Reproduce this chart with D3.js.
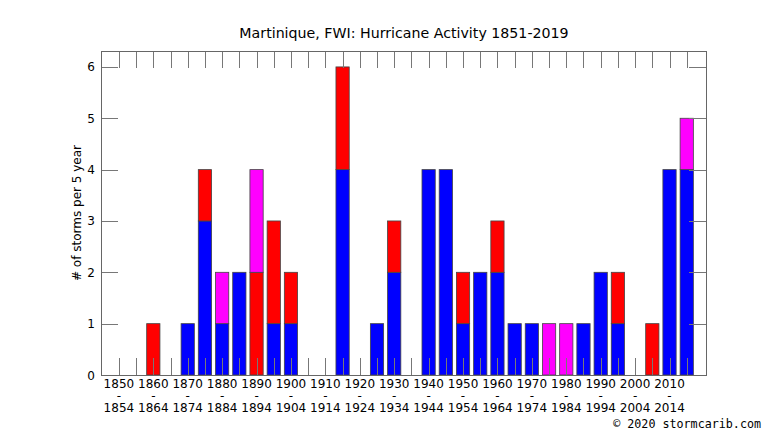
<!DOCTYPE html>
<html>
<head>
<meta charset="utf-8">
<script src="https://cdn.jsdelivr.net/npm/d3@7"></script>
<style>
  body { margin: 0; background: #fff; }
  svg { display: block; }
</style>
</head>
<body>
<svg id="chart"></svg>
<script>
// chart size
const width = 766;
const height = 431;
const plot = { left: 101, right: 706, top: 51, bottom: 375 };

// 5-year bins (start year) and storm counts per bin
const binStarts = [1850, 1855, 1860, 1865, 1870, 1875, 1880, 1885, 1890, 1895,
                   1900, 1905, 1910, 1915, 1920, 1925, 1930, 1935, 1940, 1945,
                   1950, 1955, 1960, 1965, 1970, 1975, 1980, 1985, 1990, 1995,
                   2000, 2005, 2010, 2015];
const blueCounts = [0, 0, 0, 0, 1, 3, 1, 2, 0, 1,
                    1, 0, 0, 4, 0, 1, 2, 0, 4, 4,
                    1, 2, 2, 1, 1, 0, 0, 1, 2, 1,
                    0, 0, 4, 4];
const redCounts = [0, 0, 1, 0, 0, 1, 0, 0, 2, 2,
                   1, 0, 0, 2, 0, 0, 1, 0, 0, 0,
                   1, 0, 1, 0, 0, 0, 0, 0, 0, 1,
                   0, 1, 0, 0];
const magentaCounts = [0, 0, 0, 0, 0, 0, 1, 0, 2, 0,
                       0, 0, 0, 0, 0, 0, 0, 0, 0, 0,
                       0, 0, 0, 0, 0, 1, 1, 0, 0, 0,
                       0, 0, 0, 1];
const labelYears = [1850, 1860, 1870, 1880, 1890, 1900, 1910, 1920, 1930,
                    1940, 1950, 1960, 1970, 1980, 1990, 2000, 2010];
const yTicks = [0, 1, 2, 3, 4, 5, 6];

const svg = d3.select("#chart")
    .attr("width", width)
    .attr("height", height);

const x = d3.scaleLinear()
    .domain([1844.8, 2020.6])
    .range([plot.left, plot.right]);
const y = d3.scaleLinear()
    .domain([0, 6.31])
    .range([plot.bottom, plot.top]);

const binPx = x(1855) - x(1850);
const barW = binPx * 0.77;

// stack the three series
const keys = ["blue", "red", "magenta"];
const colors = { blue: "#0000ff", red: "#ff0000", magenta: "#ff00ff" };
const rows = binStarts.map((yr, i) => ({
    year: yr, blue: blueCounts[i], red: redCounts[i], magenta: magentaCounts[i]
}));
const series = d3.stack().keys(keys)(rows);

const barGroup = svg.append("g").attr("class", "bars");
series.forEach(s => {
    barGroup.selectAll(null)
        .data(s.filter(d => d[1] > d[0]))
        .enter().append("rect")
        .attr("x", d => x(d.data.year) - barW / 2)
        .attr("y", d => y(d[1]))
        .attr("width", barW)
        .attr("height", d => y(d[0]) - y(d[1]))
        .attr("fill", colors[s.key])
        .attr("stroke", "#444")
        .attr("stroke-width", 0.8);
});

// ticks drawn over the bars
const tickLen = 17;
const tickColor = "#777";
const tickGroup = svg.append("g").attr("class", "ticks")
    .attr("stroke", tickColor).attr("stroke-width", 1);
binStarts.forEach(yr => {
    const xx = Math.round(x(yr)) + 0.5;
    tickGroup.append("line").attr("x1", xx).attr("x2", xx)
        .attr("y1", plot.bottom).attr("y2", plot.bottom - tickLen);
    tickGroup.append("line").attr("x1", xx).attr("x2", xx)
        .attr("y1", plot.top).attr("y2", plot.top + tickLen);
});
yTicks.filter(t => t > 0).forEach(t => {
    const yy = Math.round(y(t)) + 0.5;
    tickGroup.append("line").attr("x1", plot.left).attr("x2", plot.left + tickLen)
        .attr("y1", yy).attr("y2", yy);
    tickGroup.append("line").attr("x1", plot.right).attr("x2", plot.right - tickLen)
        .attr("y1", yy).attr("y2", yy);
});

// frame
svg.append("rect")
    .attr("x", plot.left + 0.5).attr("y", plot.top + 0.5)
    .attr("width", plot.right - plot.left).attr("height", plot.bottom - plot.top)
    .attr("fill", "none").attr("stroke", "#666").attr("stroke-width", 1);

// y tick labels
svg.append("g").selectAll("text")
    .data(yTicks)
    .enter().append("text")
    .attr("x", plot.left - 6)
    .attr("y", d => y(d) + 4.5)
    .attr("text-anchor", "end")
    .attr("font-family", "DejaVu Sans")
    .attr("font-size", 12)
    .text(d => d);

// x tick labels, three lines each
const xl = svg.append("g").selectAll("text")
    .data(labelYears)
    .enter().append("text")
    .attr("text-anchor", "middle")
    .attr("font-family", "DejaVu Sans")
    .attr("font-size", 12);
xl.append("tspan").attr("x", d => x(d)).attr("y", 388).text(d => d);
xl.append("tspan").attr("x", d => x(d)).attr("y", 400).text("-");
xl.append("tspan").attr("x", d => x(d)).attr("y", 412).text(d => d + 4);

// y axis title
svg.append("text")
    .attr("transform", "translate(81,213) rotate(-90)")
    .attr("text-anchor", "middle")
    .attr("font-family", "DejaVu Sans")
    .attr("font-size", 12)
    .text("# of storms per 5 year");

// title
svg.append("text")
    .attr("x", 404).attr("y", 38)
    .attr("text-anchor", "middle")
    .attr("font-family", "DejaVu Sans")
    .attr("font-size", 14.2)
    .text("Martinique, FWI: Hurricane Activity 1851-2019");

// credit
svg.append("text")
    .attr("x", 761).attr("y", 428)
    .attr("text-anchor", "end")
    .attr("font-family", "DejaVu Sans Mono")
    .attr("font-size", 11.7)
    .text("\u00a9 2020 stormcarib.com");
</script>
</body>
</html>
